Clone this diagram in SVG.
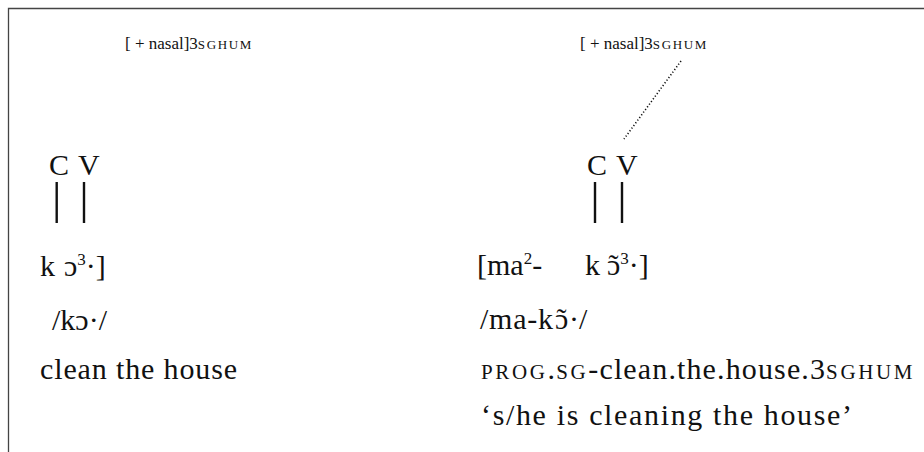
<svg xmlns="http://www.w3.org/2000/svg" width="924" height="452" viewBox="0 0 924 452">
  <style>
    text { font-family: "Liberation Serif", "DejaVu Serif", serif; fill: #111; }
    .main { font-size: 30px; }
    .feat { font-size: 17px; }
    .sc { font-size: 13px; letter-spacing: 1.6px; }
    .scm { font-size: 21px; letter-spacing: 1.5px; }
    .sup { font-size: 17px; }
    .assoc { stroke: #111; stroke-width: 2.4; fill: none; }
    .float { stroke: #111; stroke-width: 1.6; fill: none; stroke-dasharray: 1.2 2.1; }
    .frame { stroke: #444; stroke-width: 1.3; fill: none; }
  </style>

  <!-- frame: only the top and left edges are drawn -->
  <path class="frame" d="M8.5 452 V8.5 H924"/>

  <!-- left column: kɔ· 'clean the house' -->
  <g id="left-feature">
    <text class="feat" x="125" y="49">[ + nasal]3<tspan class="sc">SGHUM</tspan></text>
  </g>
  <g id="left-cv">
    <text class="main" y="175"><tspan x="49">C</tspan><tspan x="78">V</tspan></text>
  </g>
  <g id="left-segments">
    <text class="main" y="276"><tspan x="40">k</tspan><tspan x="64">ɔ</tspan><tspan class="sup" dy="-11">3</tspan><tspan dy="11">·]</tspan></text>
  </g>
  <g id="left-phonemic">
    <text class="main" x="52" y="330">/kɔ·/</text>
  </g>
  <g id="left-gloss">
    <text class="main" x="40" y="379" textLength="197" lengthAdjust="spacing">clean the house</text>
  </g>

  <!-- right column: ma-kɔ̃· 's/he is cleaning the house' -->
  <g id="right-feature">
    <text class="feat" x="580" y="49">[ + nasal]3<tspan class="sc">SGHUM</tspan></text>
  </g>
  <g id="right-cv">
    <text class="main" y="175"><tspan x="587">C</tspan><tspan x="616">V</tspan></text>
  </g>
  <g id="right-prefix">
    <text class="main" x="477" y="275">[ma<tspan class="sup" dy="-11">2</tspan><tspan dy="11">-</tspan></text>
  </g>
  <g id="right-segments">
    <!-- nasalised vowel: the tilde is set as its own glyph above the ɔ -->
    <text class="main" y="275"><tspan x="585">k</tspan><tspan x="607">ɔ</tspan><tspan class="sup" dy="-11">3</tspan><tspan dy="11">·]</tspan></text>
    <text class="main" x="608.5" y="275">˜</text>
  </g>
  <g id="right-phonemic">
    <text class="main" y="329"><tspan x="480" textLength="73" lengthAdjust="spacing">/ma-k</tspan><tspan x="555">ɔ</tspan><tspan x="569">·/</tspan></text>
    <text class="main" x="556.5" y="329">˜</text>
  </g>
  <g id="right-gloss">
    <text class="main" x="481" y="379" textLength="433" lengthAdjust="spacing"><tspan class="scm">PROG</tspan>.<tspan class="scm">SG</tspan>-clean.the.house.3<tspan class="scm">SGHUM</tspan></text>
  </g>
  <g id="right-translation">
    <text class="main" x="481" y="425" textLength="371" lengthAdjust="spacing">‘s/he is cleaning the house’</text>
  </g>

  <!-- association lines -->
  <g id="connectors">
    <line class="assoc" x1="56.7" y1="182" x2="56.7" y2="223"/>
    <line class="assoc" x1="84" y1="182" x2="84" y2="223"/>
    <line class="assoc" x1="595" y1="182" x2="595" y2="223"/>
    <line class="assoc" x1="622" y1="182" x2="622" y2="223"/>
    <line class="float" x1="681" y1="61" x2="624" y2="139"/>
  </g>
</svg>
